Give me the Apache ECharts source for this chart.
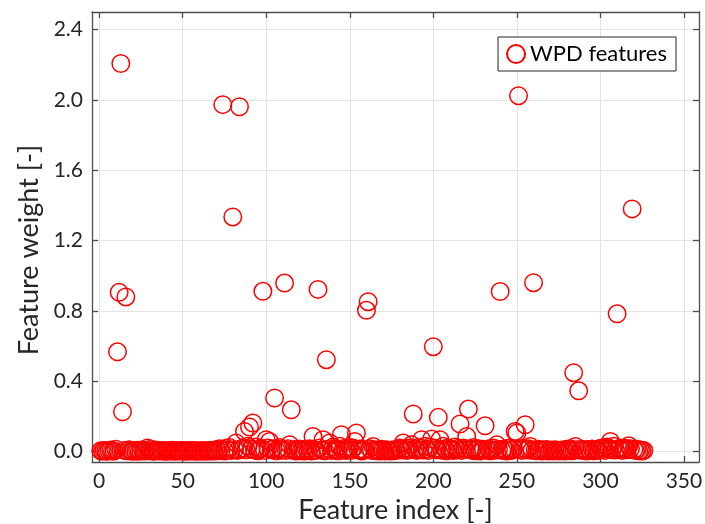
<!DOCTYPE html>
<html>
<head>
<meta charset="utf-8">
<script src="https://cdn.jsdelivr.net/npm/echarts@6/dist/echarts.min.js"></script>
<style>
html,body{margin:0;padding:0;background:#fff;}
#chart{width:705px;height:524px;}
</style>
</head>
<body>
<div id="chart"></div>
<script>
// Feature weights for feature index 1..326
const featureWeights = [
  0.004,0.002,0.006,0.003,0.001,0.005,0.008,0.003,0.002,0.012,
  0.567,0.905,2.207,0.226,0.006,0.879,0.004,0.010,0.003,0.002,
  0.005,0.001,0.007,0.003,0.004,0.009,0.002,0.006,0.020,0.004,
  0.013,0.003,0.001,0.008,0.005,0.002,0.006,0.003,0.004,0.001,
  0.002,0.005,0.003,0.007,0.001,0.004,0.002,0.006,0.003,0.005,
  0.001,0.004,0.002,0.003,0.006,0.002,0.005,0.001,0.004,0.003,
  0.002,0.006,0.001,0.004,0.003,0.005,0.002,0.007,0.003,0.010,
  0.004,0.015,0.006,1.973,0.003,0.018,0.008,0.022,0.005,1.334,
  0.010,0.048,0.006,1.961,0.012,0.020,0.114,0.009,0.030,0.139,
  0.014,0.162,0.008,0.025,0.004,0.011,0.018,0.911,0.006,0.067,
  0.020,0.057,0.009,0.015,0.304,0.004,0.012,0.022,0.007,0.010,
  0.958,0.005,0.016,0.038,0.237,0.006,0.011,0.003,0.009,0.014,
  0.004,0.008,0.002,0.012,0.006,0.015,0.003,0.085,0.010,0.005,
  0.922,0.020,0.008,0.067,0.004,0.522,0.012,0.048,0.006,0.025,
  0.010,0.015,0.004,0.030,0.095,0.008,0.018,0.005,0.012,0.022,
  0.006,0.020,0.057,0.105,0.009,0.014,0.003,0.011,0.007,0.803,
  0.852,0.016,0.005,0.028,0.010,0.004,0.008,0.002,0.012,0.006,
  0.003,0.009,0.005,0.002,0.007,0.004,0.011,0.006,0.014,0.020,
  0.008,0.048,0.012,0.005,0.020,0.009,0.038,0.213,0.015,0.006,
  0.022,0.010,0.067,0.008,0.030,0.012,0.005,0.025,0.071,0.596,
  0.018,0.010,0.194,0.067,0.007,0.030,0.015,0.004,0.020,0.009,
  0.012,0.005,0.025,0.008,0.018,0.156,0.006,0.020,0.011,0.085,
  0.241,0.014,0.007,0.022,0.004,0.010,0.016,0.003,0.009,0.012,
  0.146,0.006,0.015,0.004,0.010,0.020,0.007,0.038,0.012,0.910,
  0.005,0.014,0.008,0.003,0.020,0.010,0.006,0.016,0.114,0.105,
  2.024,0.012,0.005,0.018,0.152,0.008,0.015,0.028,0.006,0.960,
  0.010,0.004,0.012,0.007,0.003,0.009,0.005,0.011,0.002,0.006,
  0.008,0.003,0.010,0.005,0.002,0.007,0.004,0.009,0.003,0.012,
  0.006,0.015,0.004,0.448,0.028,0.010,0.345,0.007,0.012,0.005,
  0.009,0.003,0.011,0.006,0.014,0.004,0.008,0.010,0.005,0.018,
  0.012,0.020,0.006,0.025,0.015,0.057,0.010,0.030,0.008,0.783,
  0.014,0.020,0.006,0.012,0.018,0.009,0.032,0.015,1.380,0.010,
  0.006,0.012,0.004,0.008,0.003,0.005
];
const xTicks = [0, 50, 100, 150, 200, 250, 300, 350];
const yTicks = [0, 0.4, 0.8, 1.2, 1.6, 2.0, 2.4];
const seriesName = 'WPD features';
const xName = 'Feature index [-]';
const yName = 'Feature weight [-]';

const points = featureWeights.map((v, i) => [i + 1, v]);

const FONT = 'Lato';
const axisColor = '#4d4d4d';
const textColor = '#262626';
const gridColor = '#e3e3e3';
const X_MIN = -4.25, X_MAX = 359, Y_MIN = -0.06, Y_MAX = 2.5;

function xAxisDef(pos, main) {
  return {
    type: 'value', position: pos, min: X_MIN, max: X_MAX,
    name: main ? xName : '', nameLocation: 'middle', nameGap: 27,
    nameTextStyle: {fontFamily: FONT, fontSize: 27, color: textColor},
    axisLine: {show: true, onZero: false, lineStyle: {color: axisColor, width: 1.3}},
    axisTick: {show: true, inside: true, length: 6, customValues: xTicks, lineStyle: {color: axisColor, width: 1.3}},
    axisLabel: {show: main, customValues: xTicks, margin: 9, fontFamily: FONT, fontSize: 21, color: textColor},
    splitLine: {show: main, customValues: xTicks, lineStyle: {color: gridColor, width: 1}}
  };
}
function yAxisDef(pos, main) {
  return {
    type: 'value', position: pos, min: Y_MIN, max: Y_MAX,
    name: main ? yName : '', nameLocation: 'middle', nameGap: 47,
    nameTextStyle: {fontFamily: FONT, fontSize: 27, color: textColor, padding: [0, 26, 0, 0]},
    axisLine: {show: true, onZero: false, lineStyle: {color: axisColor, width: 1.3}},
    axisTick: {show: true, inside: true, length: 6, customValues: yTicks, lineStyle: {color: axisColor, width: 1.3}},
    axisLabel: {show: main, customValues: yTicks, margin: 9, fontFamily: FONT, fontSize: 21, color: textColor,
      formatter: v => Number(v).toFixed(1)},
    splitLine: {show: main, customValues: yTicks, lineStyle: {color: gridColor, width: 1}}
  };
}

const chart = echarts.init(document.getElementById('chart'), null, {renderer: 'canvas'});
chart.setOption({
  animation: false,
  backgroundColor: '#ffffff',
  grid: {left: 92, right: 6, top: 12, bottom: 62, containLabel: false, outerBoundsMode: 'none'},
  xAxis: [xAxisDef('bottom', true), xAxisDef('top', false)],
  yAxis: [yAxisDef('left', true), yAxisDef('right', false)],
  legend: {
    data: [seriesName], right: 29, top: 37,
    orient: 'vertical',
    backgroundColor: '#ffffff', borderColor: '#262626', borderWidth: 1,
    padding: [6, 9, 6, 8], itemGap: 0,
    itemWidth: 18, itemHeight: 18, icon: 'circle',
    textStyle: {fontFamily: FONT, fontSize: 22, color: '#000'}
  },
  series: [{
    name: seriesName, type: 'scatter', xAxisIndex: 0, yAxisIndex: 0,
    data: points, symbol: 'circle', symbolSize: 17.5,
    itemStyle: {color: 'rgba(255,255,255,0)', borderColor: '#ff0000', borderWidth: 1.5, opacity: 1},
    emphasis: {disabled: true}
  }]
});
</script>
</body>
</html>
